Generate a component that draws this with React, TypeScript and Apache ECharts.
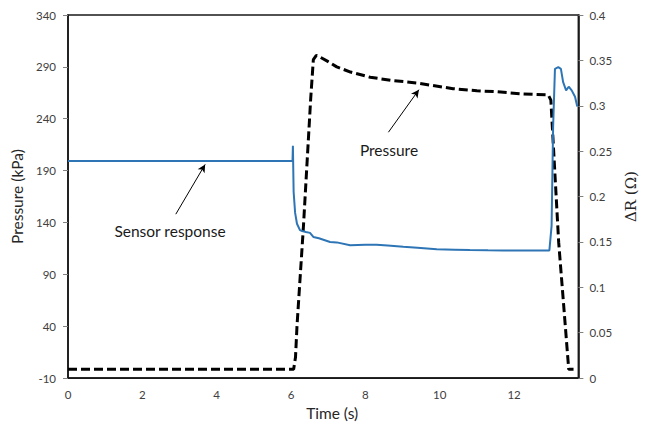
import React, { useEffect, useRef } from "react";
import * as echarts from "echarts";

// Time (s) and pressure (kPa), dashed black curve, left axis
const pressureTime = [0, 6.07, 6.12, 6.16, 6.33, 6.53, 6.6, 6.68, 6.8, 7.0, 7.23, 7.6, 8.13, 8.7, 9.38, 10.36, 11.0, 11.53, 12.2, 12.92, 12.99, 13.2, 13.39, 13.47, 13.6];
const pressureKPa = [-1.5, -1.5, 10, 40, 134, 260, 297, 301, 299, 295, 290, 285, 280, 277, 274.5, 269, 267, 266, 264, 263, 258, 121, 35, -1.5, -1.5];

// Time (s) and sensor response ΔR (Ω), blue curve, right axis
const sensorTime = [0, 1, 2, 3, 4, 5, 6.04, 6.05, 6.07, 6.11, 6.16, 6.24, 6.3, 6.4, 6.51, 6.6, 6.75, 7.05, 7.23, 7.59, 8.0, 8.3, 8.6, 9.02, 9.4, 9.92, 10.4, 10.81, 11.3, 11.71, 12.3, 12.95, 13.01, 13.05, 13.1, 13.19, 13.26, 13.32, 13.4, 13.47, 13.55, 13.64, 13.7];
const sensorOhm = [0.2392, 0.2392, 0.2391, 0.2391, 0.2392, 0.2392, 0.2392, 0.256, 0.205, 0.182, 0.17, 0.163, 0.162, 0.161, 0.16, 0.1555, 0.154, 0.15, 0.1495, 0.1464, 0.147, 0.147, 0.146, 0.1446, 0.1435, 0.142, 0.1415, 0.141, 0.1408, 0.1407, 0.1407, 0.1407, 0.168, 0.276, 0.3407, 0.3425, 0.3407, 0.326, 0.317, 0.321, 0.317, 0.31, 0.2993];

// Annotation arrows (data coords on pressure axis): [x0, y0, x1, y1]
const sensorArrow = [2.9, 148, 3.69, 196];
const pressureArrow = [8.62, 227, 9.44, 268];
const annotationLabels = ["Sensor response", "Pressure"];

const xTicks = { min: 0, max: 13.73, interval: 2 };
const leftTicks = { min: -10, max: 340, interval: 50 };
const rightTicks = { min: 0, max: 0.4, interval: 0.05 };

const FONT = "Lato, 'Open Sans', sans-serif";

export default function App() {
  const ref = useRef<HTMLDivElement>(null);
  useEffect(() => {
    if (!ref.current) return;
    const chart = echarts.init(ref.current, undefined, { renderer: "svg" });
    const pData = pressureTime.map((t, i) => [t, pressureKPa[i]]);
    const sData = sensorTime.map((t, i) => [t, sensorOhm[i]]);
    const axisLine = { show: true, onZero: false, lineStyle: { color: "#1a1a1a", width: 1.6 } };
    const labelStyle = { color: "#404040", fontFamily: FONT, fontSize: 11.5 };
    chart.setOption({
      animation: false,
      textStyle: { fontFamily: FONT },
      grid: {
        left: 68,
        right: 67,
        top: 15,
        bottom: 40,
        show: true,
        borderColor: "#1a1a1a",
        borderWidth: 1.6,
        backgroundColor: "transparent",
      },
      xAxis: {
        type: "value",
        min: xTicks.min,
        max: xTicks.max,
        interval: xTicks.interval,
        name: "Time (s)",
        nameLocation: "middle",
        nameGap: 22,
        nameTextStyle: { color: "#262626", fontFamily: FONT, fontSize: 15.5, padding: [0, 0, 0, 18] },
        axisLine,
        axisTick: { show: false },
        splitLine: { show: false },
        axisLabel: { ...labelStyle, margin: 10, showMaxLabel: false },
      },
      yAxis: [
        {
          type: "value",
          min: leftTicks.min,
          max: leftTicks.max,
          interval: leftTicks.interval,
          name: "Pressure (kPa)",
          nameLocation: "middle",
          nameGap: 34,
          nameTextStyle: { color: "#262626", fontFamily: FONT, fontSize: 15.5 },
          axisLine,
          axisTick: { show: true, length: 5, lineStyle: { color: "#808080" } },
          splitLine: { show: false },
          axisLabel: { ...labelStyle, margin: 12 },
        },
        {
          type: "value",
          position: "right",
          min: rightTicks.min,
          max: rightTicks.max,
          interval: rightTicks.interval,
          name: "ΔR (Ω)",
          nameLocation: "middle",
          nameGap: 41,
          nameTextStyle: { color: "#262626", fontFamily: "'DejaVu Serif', serif", fontSize: 15 },
          axisLine,
          axisTick: { show: true, length: 5, lineStyle: { color: "#808080" } },
          splitLine: { show: false },
          axisLabel: { ...labelStyle, margin: 11 },
        },
      ],
      series: [
        {
          name: "Pressure",
          type: "line",
          yAxisIndex: 0,
          data: pData,
          showSymbol: false,
          symbol: "none",
          lineStyle: { color: "#000", width: 3, type: [9, 4] },
          z: 2,
          markLine: {
            silent: true,
            symbol: ["none", "arrow"],
            symbolSize: [6, 8],
            label: { show: false },
            lineStyle: { color: "#000", width: 1, type: "solid" },
            data: [
              [{ coord: [sensorArrow[0], sensorArrow[1]] }, { coord: [sensorArrow[2], sensorArrow[3]] }],
              [{ coord: [pressureArrow[0], pressureArrow[1]] }, { coord: [pressureArrow[2], pressureArrow[3]] }],
            ],
          },
        },
        {
          name: "Sensor response",
          type: "line",
          yAxisIndex: 1,
          data: sData,
          showSymbol: false,
          symbol: "none",
          lineStyle: { color: "#2e75b6", width: 2 },
          z: 3,
        },
      ],
      graphic: [
        {
          type: "text",
          x: 170,
          y: 231,
          style: {
            text: annotationLabels[0],
            fill: "#1a1a1a",
            font: `15.5px ${FONT}`,
            align: "center",
            verticalAlign: "middle",
          },
        },
        {
          type: "text",
          x: 389,
          y: 150,
          style: {
            text: annotationLabels[1],
            fill: "#1a1a1a",
            font: `15.5px ${FONT}`,
            align: "center",
            verticalAlign: "middle",
          },
        },
      ],
    });
    return () => chart.dispose();
  }, []);
  return (
    <div
      ref={ref}
      style={{ position: "fixed", left: 0, top: 0, width: 646, height: 426, background: "#fff" }}
    />
  );
}
